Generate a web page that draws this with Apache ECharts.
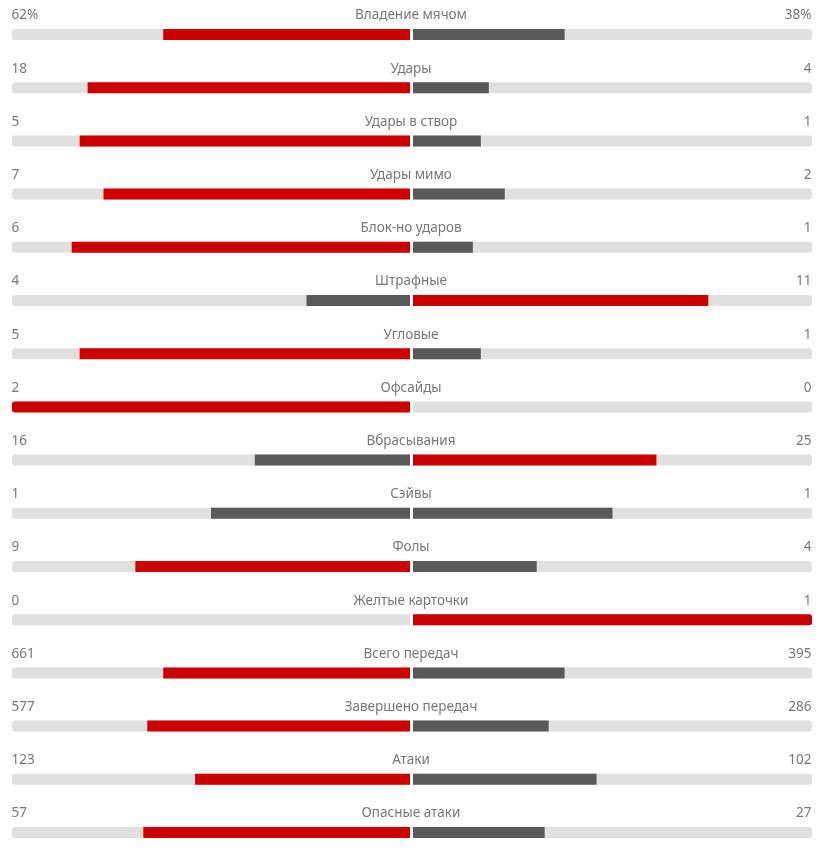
<!DOCTYPE html>
<html>
<head>
<meta charset="utf-8">
<script src="https://cdn.jsdelivr.net/npm/echarts@6/dist/echarts.min.js"></script>
<style>
html, body { margin: 0; padding: 0; background: #fff; }
#main { width: 820px; height: 850px; }
</style>
</head>
<body>
<div id="main"></div>
<script>
// названия показателей
var titles = ['Владение мячом', 'Удары', 'Удары в створ', 'Удары мимо', 'Блок-но ударов',
    'Штрафные', 'Угловые', 'Офсайды', 'Вбрасывания', 'Сэйвы', 'Фолы', 'Желтые карточки',
    'Всего передач', 'Завершено передач', 'Атаки', 'Опасные атаки'];
// хозяева / гости
var homeValues = [62, 18, 5, 7, 6, 4, 5, 2, 16, 1, 9, 0, 661, 577, 123, 57];
var awayValues = [38, 4, 1, 2, 1, 11, 1, 0, 25, 1, 4, 1, 395, 286, 102, 27];
var homeText = ['62%', '18', '5', '7', '6', '4', '5', '2', '16', '1', '9', '0', '661', '577', '123', '57'];
var awayText = ['38%', '4', '1', '2', '1', '11', '1', '0', '25', '1', '4', '1', '395', '286', '102', '27'];

var RED = '#cc0000';
var GRAY = '#595959';
var TRACK = '#e0e0e0';
var TEXT = '#555555';
var FONT = "'Noto Sans', sans-serif";

var homeBars = [], awayBars = [];
for (var i = 0; i < titles.length; i++) {
    var h = homeValues[i], a = awayValues[i];
    var sum = h + a;
    var hp = sum ? Math.floor(h * 100 / sum) : 0;
    var ap = sum ? 100 - hp : 0;
    var hc = h > a ? RED : GRAY;
    var ac = a > h ? RED : GRAY;
    homeBars.push({
        value: hp / 100,
        itemStyle: { color: hc, borderRadius: hp === 100 ? [3, 0, 0, 3] : 0 }
    });
    awayBars.push({
        value: ap / 100,
        itemStyle: { color: ac, borderRadius: ap === 100 ? [0, 3, 3, 0] : 0 }
    });
}

function labelPoints(x) {
    return titles.map(function (t, i) { return [x, i]; });
}

var textStyle = { color: TEXT, fontSize: 13.5, fontFamily: FONT };

var myChart = echarts.init(document.getElementById('main'));
var option = {
    animation: false,
    grid: [
        { left: 12, width: 398, top: 34.5, height: 798 },
        { left: 413, width: 399, top: 34.5, height: 798 }
    ],
    xAxis: [
        { gridIndex: 0, type: 'value', min: 0, max: 1, inverse: true, show: false },
        { gridIndex: 1, type: 'value', min: 0, max: 1, show: false }
    ],
    yAxis: [
        { gridIndex: 0, type: 'category', data: titles, inverse: true, boundaryGap: false, show: false },
        { gridIndex: 1, type: 'category', data: titles, inverse: true, boundaryGap: false, show: false }
    ],
    series: [
        {
            type: 'bar', xAxisIndex: 0, yAxisIndex: 0, barWidth: 11, silent: true,
            showBackground: true,
            backgroundStyle: { color: TRACK, borderRadius: [3, 0, 0, 3] },
            data: homeBars
        },
        {
            type: 'bar', xAxisIndex: 1, yAxisIndex: 1, barWidth: 11, silent: true,
            showBackground: true,
            backgroundStyle: { color: TRACK, borderRadius: [0, 3, 3, 0] },
            data: awayBars
        },
        // цифры слева
        {
            type: 'scatter', xAxisIndex: 0, yAxisIndex: 0, symbolSize: 1, silent: true,
            itemStyle: { color: 'rgba(0,0,0,0)' },
            data: labelPoints(1),
            label: Object.assign({
                show: true, position: [0, -18.5], align: 'left', verticalAlign: 'middle',
                formatter: function (p) { return homeText[p.dataIndex]; }
            }, textStyle)
        },
        // цифры справа
        {
            type: 'scatter', xAxisIndex: 1, yAxisIndex: 1, symbolSize: 1, silent: true,
            itemStyle: { color: 'rgba(0,0,0,0)' },
            data: labelPoints(1),
            label: Object.assign({
                show: true, position: [0, -18.5], align: 'right', verticalAlign: 'middle',
                formatter: function (p) { return awayText[p.dataIndex]; }
            }, textStyle)
        },
        // названия по центру
        {
            type: 'scatter', xAxisIndex: 1, yAxisIndex: 1, symbolSize: 1, silent: true,
            itemStyle: { color: 'rgba(0,0,0,0)' },
            data: labelPoints(0),
            label: Object.assign({
                show: true, position: [-1.5, -18.5], align: 'center', verticalAlign: 'middle',
                formatter: function (p) { return titles[p.dataIndex]; }
            }, textStyle)
        }
    ]
};
myChart.setOption(option);
</script>
</body>
</html>
